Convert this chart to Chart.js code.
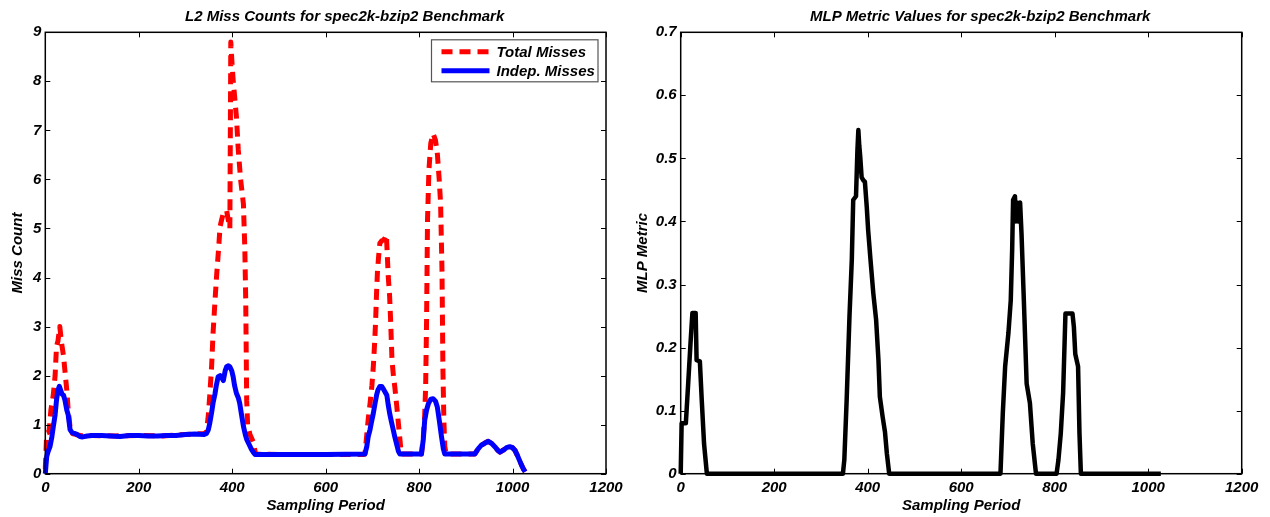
<!DOCTYPE html>
<html>
<head>
<meta charset="utf-8">
<script src="https://cdn.jsdelivr.net/npm/chart.js@4.4.1/dist/chart.umd.min.js"></script>
<style>
  html, body { margin: 0; padding: 0; background: #fff; overflow: hidden; }
  .panel { position: absolute; top: 0; height: 517px; }
  #left { left: 0; width: 640px; }
  #right { left: 625px; width: 645px; }
</style>
</head>
<body>
<div class="panel" id="left"><canvas id="missChart"></canvas></div>
<div class="panel" id="right"><canvas id="mlpChart"></canvas></div>
<script>
// tick values of both panels
const xTicks = [0, 200, 400, 600, 800, 1000, 1200];
const missTicks = [0, 1, 2, 3, 4, 5, 6, 7, 8, 9];
const mlpTicks = [0, 0.1, 0.2, 0.3, 0.4, 0.5, 0.6, 0.7];

// left panel: total misses (red dashed)
const totalX = [0, 3, 8, 12, 17, 21, 24, 27, 31, 35, 39, 42, 46, 49, 53, 58, 65, 80, 100, 150, 200, 250, 300, 340,
  345, 349, 352, 356, 359, 363, 367, 371, 374, 378, 381, 385, 388, 392, 395, 397, 400, 402, 406, 409, 413, 418, 424,
  427, 429, 430, 431, 433, 438, 445, 450, 500, 600, 680,
  684, 687, 691, 695, 699, 702, 705, 707, 709, 711, 714, 716, 720, 723, 727, 730, 734, 737, 739, 742, 745, 748, 752,
  755, 759, 762, 805, 809, 812, 814, 816, 818, 821, 825, 830, 835, 839, 843, 846, 849, 851, 853, 855, 858,
  919, 926, 933, 940, 948, 955, 962, 969, 973, 980, 987, 994, 1000, 1005, 1010, 1015, 1019, 1023, 1027];
const totalMisses = [0.1, 0.83, 0.85, 1.3, 1.6, 2.0, 2.6, 2.7, 3.0, 2.65, 2.4, 2.1, 1.7, 1.3, 0.95, 0.82, 0.8, 0.77, 0.78, 0.77, 0.78, 0.77, 0.8, 0.82,
  0.85, 1.2, 1.6, 2.2, 2.86, 3.5, 4.09, 4.6, 5.04, 5.2, 5.31, 5.35, 5.37, 5.15, 5.0, 8.8, 8.3, 8.03, 7.6, 7.28, 6.6, 6.0, 5.5,
  4.6, 3.5, 2.5, 1.5, 1.0, 0.8, 0.65, 0.4, 0.39, 0.39, 0.39,
  0.4, 0.69, 1.1, 1.43, 1.8, 2.18, 2.7, 3.13, 3.7, 4.15, 4.5, 4.7, 4.75, 4.76, 4.8, 4.87, 4.02, 3.6, 3.13, 2.32, 2.0, 1.77, 1.4,
  1.09, 0.69, 0.4, 0.4, 0.75, 1.2, 1.77, 3.13, 5.17, 6.19, 6.74, 6.93, 6.8, 6.53, 6.0, 5.51, 4.15, 2.11, 1.09, 0.55, 0.4,
  0.4, 0.5, 0.58, 0.62, 0.66, 0.62, 0.55, 0.47, 0.44, 0.48, 0.53, 0.55, 0.53, 0.48, 0.38, 0.27, 0.18, 0.1, 0.04];

// left panel: independent misses (blue solid)
const indepX = [0, 3, 6, 10, 14, 17, 21, 24, 27, 30, 33, 36, 39, 42, 46, 49, 53, 57, 62, 68, 74, 80, 90, 100, 120, 140, 160,
  180, 200, 220, 240, 260, 280, 300, 320, 340, 345, 349, 352, 356, 359, 363, 366, 370, 374, 378, 381, 385, 388, 392, 395,
  399, 402, 405, 409, 413, 416, 420, 424, 428, 431, 436, 441, 445, 449, 500, 600, 684,
  688, 691, 695, 698, 702, 706, 709, 712, 716, 720, 724, 728, 731, 734, 737, 741, 745, 748, 752, 756, 759, 805,
  809, 812, 816, 820, 825, 830, 835, 839, 843, 848, 852, 855, 919,
  926, 933, 940, 948, 955, 962, 969, 973, 980, 987, 994, 1000, 1005, 1010, 1015, 1019, 1023, 1027];
const indepMisses = [0, 0.35, 0.45, 0.55, 0.75, 0.95, 1.2, 1.5, 1.7, 1.78, 1.7, 1.62, 1.6, 1.5, 1.3, 1.2, 0.9, 0.84, 0.82, 0.8, 0.76, 0.75, 0.77, 0.78, 0.78, 0.77, 0.76,
  0.78, 0.78, 0.77, 0.77, 0.78, 0.78, 0.8, 0.81, 0.8, 0.82, 0.9, 1.03, 1.25, 1.44, 1.62, 1.8, 1.98, 2.0, 1.95, 1.9, 2.1, 2.18, 2.2, 2.18,
  2.1, 1.98, 1.8, 1.64, 1.55, 1.44, 1.2, 0.97, 0.8, 0.7, 0.6, 0.5, 0.44, 0.39, 0.39, 0.39, 0.4,
  0.55, 0.75, 0.9, 1.05, 1.23, 1.45, 1.6, 1.71, 1.78, 1.78, 1.72, 1.65, 1.6, 1.4, 1.23, 1.05, 0.88, 0.75, 0.6, 0.45, 0.4, 0.4,
  0.7, 1.09, 1.3, 1.43, 1.52, 1.53, 1.48, 1.36, 1.1, 0.75, 0.5, 0.4, 0.4,
  0.5, 0.58, 0.62, 0.66, 0.62, 0.55, 0.47, 0.44, 0.48, 0.53, 0.55, 0.53, 0.48, 0.38, 0.27, 0.18, 0.1, 0.04];

// right panel: MLP metric (black)
const mlpX = [0, 2, 11, 16, 21, 25, 32, 34, 41, 45, 50, 56, 347,
  350, 355, 361, 366, 369, 375, 378, 380, 382, 384, 387, 391, 394, 398, 401, 406, 412, 418, 423, 426, 432, 437, 441, 446, 684,
  689, 694, 701, 706, 709, 711, 715, 717, 719, 722, 726, 729, 734, 740, 747, 753, 760, 804,
  808, 813, 818, 823, 838, 841, 844, 850, 853, 856, 1027];
const mlpValues = [0, 0.08, 0.08, 0.143, 0.207, 0.255, 0.255, 0.18, 0.178, 0.117, 0.047, 0, 0,
  0.022, 0.117, 0.249, 0.339, 0.434, 0.44, 0.513, 0.545, 0.52, 0.503, 0.47, 0.465, 0.463, 0.423, 0.386, 0.339, 0.286, 0.244, 0.18, 0.122, 0.09, 0.066, 0.032, 0, 0,
  0.096, 0.17, 0.223, 0.275, 0.355, 0.434, 0.44, 0.4, 0.43, 0.4, 0.43, 0.381, 0.275, 0.143, 0.112, 0.048, 0, 0,
  0.022, 0.064, 0.128, 0.254, 0.254, 0.233, 0.19, 0.17, 0.064, 0, 0];

const toPoints = (xs, ys) => xs.map((x, i) => ({ x, y: ys[i] }));

const FAMILY = '"Liberation Sans", Arial, Helvetica, sans-serif';
const FONT = { family: FAMILY, size: 15, style: 'italic', weight: 'bold', lineHeight: 1.2 };
const CSS_FONT = 'italic bold 15px ' + FAMILY;

// matlab style box, inward ticks, title and legend
const matlabFrame = {
  id: 'matlabFrame',
  afterDatasetsDraw(chart, args, opts) {
    const { ctx, chartArea: a, scales } = chart;
    ctx.save();
    ctx.strokeStyle = '#000';
    ctx.lineWidth = 1;
    ctx.beginPath();
    scales.x.ticks.forEach(t => {
      const px = Math.round(scales.x.getPixelForValue(t.value)) + 0.5;
      ctx.moveTo(px, a.bottom); ctx.lineTo(px, a.bottom - 5);
      ctx.moveTo(px, a.top); ctx.lineTo(px, a.top + 5);
    });
    scales.y.ticks.forEach(t => {
      const py = Math.round(scales.y.getPixelForValue(t.value)) + 0.5;
      ctx.moveTo(a.left, py); ctx.lineTo(a.left + 5, py);
      ctx.moveTo(a.right, py); ctx.lineTo(a.right - 5, py);
    });
    ctx.stroke();
    ctx.lineWidth = 1.5;
    ctx.strokeRect(a.left, a.top, a.right - a.left, a.bottom - a.top);

    ctx.fillStyle = '#000';
    ctx.font = CSS_FONT;
    ctx.textAlign = 'center';
    ctx.textBaseline = 'alphabetic';
    ctx.fillText(opts.title, (a.left + a.right) / 2 + 19, a.top - 11.5);

    if (opts.legend) {
      const bx = a.right - 174.5, by = a.top + 7.5, bw = 166.5, bh = 42;
      ctx.fillStyle = '#fff';
      ctx.fillRect(bx, by, bw, bh);
      ctx.strokeStyle = '#555';
      ctx.lineWidth = 1.2;
      ctx.strokeRect(bx, by, bw, bh);
      chart.data.datasets.forEach((ds, row) => {
        const y = by + 12 + row * 19;
        ctx.strokeStyle = ds.borderColor;
        ctx.lineWidth = ds.borderWidth;
        ctx.setLineDash(ds.borderDash || []);
        ctx.beginPath();
        ctx.moveTo(bx + 10, y); ctx.lineTo(bx + 58, y);
        ctx.stroke();
        ctx.setLineDash([]);
        ctx.fillStyle = '#000';
        ctx.textAlign = 'left';
        ctx.textBaseline = 'middle';
        ctx.fillText(ds.label, bx + 65, y + 1);
      });
    }
    ctx.restore();
  }
};

function makeOptions(yTicks, yTitle, yMax, title, legend, yWidth, padRight, titlePad) {
  return {
    responsive: true,
    maintainAspectRatio: false,
    animation: false,
    layout: { padding: { top: 32.3, left: 0, right: padRight, bottom: 0 } },
    elements: { point: { radius: 0 }, line: { tension: 0, borderCapStyle: 'butt', borderJoinStyle: 'round' } },
    plugins: {
      legend: { display: false },
      tooltip: { enabled: false },
      matlabFrame: { title, legend }
    },
    scales: {
      x: {
        type: 'linear', min: 0, max: 1200,
        afterBuildTicks: s => { s.ticks = xTicks.map(v => ({ value: v })); },
        afterFit: s => { s.height = 43.3; },
        grid: { display: false, drawTicks: false }, border: { display: false },
        ticks: { color: '#000', font: FONT, padding: 5, maxRotation: 0, callback: v => String(v) },
        title: { display: true, text: 'Sampling Period', color: '#000', font: FONT, padding: { top: 0, bottom: 2 } }
      },
      y: {
        type: 'linear', min: 0, max: yMax,
        afterBuildTicks: s => { s.ticks = yTicks.map(v => ({ value: v })); },
        afterFit: s => { s.width = yWidth; },
        grid: { display: false, drawTicks: false }, border: { display: false },
        ticks: { color: '#000', font: FONT, padding: 4, callback: v => String(v) },
        title: { display: true, text: yTitle, color: '#000', font: FONT, padding: { top: titlePad, bottom: 0 } }
      }
    }
  };
}

new Chart(document.getElementById('missChart'), {
  type: 'line',
  data: {
    datasets: [
      {
        label: 'Total Misses',
        data: toPoints(totalX, totalMisses),
        borderColor: '#ff0000',
        borderWidth: 5,
        borderDash: [11, 7],
        order: 1,
        clip: false
      },
      {
        label: 'Indep. Misses',
        data: toPoints(indepX, indepMisses),
        borderColor: '#0000ff',
        borderWidth: 5,
        order: 0,
        clip: false
      }
    ]
  },
  options: makeOptions(missTicks, 'Miss Count', 9, 'L2 Miss Counts for spec2k-bzip2 Benchmark', true, 45.3, 34, 8.5),
  plugins: [matlabFrame]
});

new Chart(document.getElementById('mlpChart'), {
  type: 'line',
  data: {
    datasets: [{
      label: 'MLP Metric',
      data: toPoints(mlpX, mlpValues),
      borderColor: '#000000',
      borderWidth: 4.5,
      clip: false
    }]
  },
  options: makeOptions(mlpTicks, 'MLP Metric', 0.7, 'MLP Metric Values for spec2k-bzip2 Benchmark', false, 55.7, 28.3, 9),
  plugins: [matlabFrame]
});
</script>
</body>
</html>
